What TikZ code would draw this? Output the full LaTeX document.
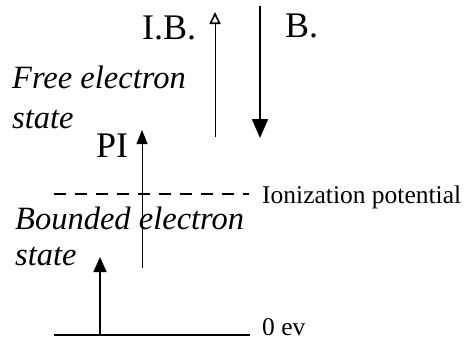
\documentclass[tikz,border=0pt]{standalone}
\usepackage{fontspec}
\setmainfont{Liberation Serif}
\usetikzlibrary{arrows.meta}
\begin{document}
\begin{tikzpicture}[x=1pt,y=-1pt,
  big/.style={inner sep=0pt, anchor=base west, font=\fontsize{36}{42}\selectfont},
  itl/.style={inner sep=0pt, anchor=base west, font=\fontsize{32.5}{38}\selectfont\itshape},
  sml/.style={inner sep=0pt, anchor=base west, font=\fontsize{25.5}{30}\selectfont},
  level/.style={line width=1.4pt},
  dlevel/.style={line width=1.4pt, dash pattern=on 12pt off 9pt},
  thinarrow/.style={line width=0.9pt, -{Triangle[length=14pt,width=11pt]}},
  openarrow/.style={line width=0.9pt, -{Triangle[open,length=12pt,width=11pt,line width=1.6pt]}},
  thickarrow/.style={line width=1.8pt, -{Triangle[length=15pt,width=13pt]}},
  bigarrow/.style={line width=2pt, -{Triangle[length=19pt,width=16pt]}}
]
\useasboundingbox (0,0) rectangle (465,341);

% levels
\coordinate (ipL) at (54,194);
\coordinate (ipR) at (249,194);
\coordinate (zL) at (54,335);
\coordinate (zR) at (250,335);
\draw[dlevel] (ipL) -- (ipR);
\draw[level] (zL) -- (zR);

% labels
\node[big] (ib) at (142,39) {I.B.};
\node[big] (b) at (285,37) {B.};
\node[big] (pi) at (96,157) {PI};
\node[itl] (free) at (12,88) {Free electron};
\node[itl] (fstate) at (12,128) {state};
\node[itl] (bound) at (15,229) {Bounded electron};
\node[itl] (bstate) at (15,265) {state};
\node[sml] (ion) at (262,203) {Ionization potential};
\node[sml] (zero) at (262,335) {0 ev};

% arrows
\coordinate (a1s) at (100,335);
\coordinate (a1e) at (100,257);
\coordinate (a2s) at (142,268);
\coordinate (a2e) at (142,130);
\coordinate (a3s) at (215,137);
\coordinate (a3e) at (215,12);
\coordinate (a4s) at (260,6);
\coordinate (a4e) at (260,138);
\draw[thickarrow] (a1s) -- (a1e);
\draw[thinarrow] (a2s) -- (a2e);
\draw[openarrow] (a3s) -- (a3e);
\draw[bigarrow] (a4s) -- (a4e);
\end{tikzpicture}
\end{document}
